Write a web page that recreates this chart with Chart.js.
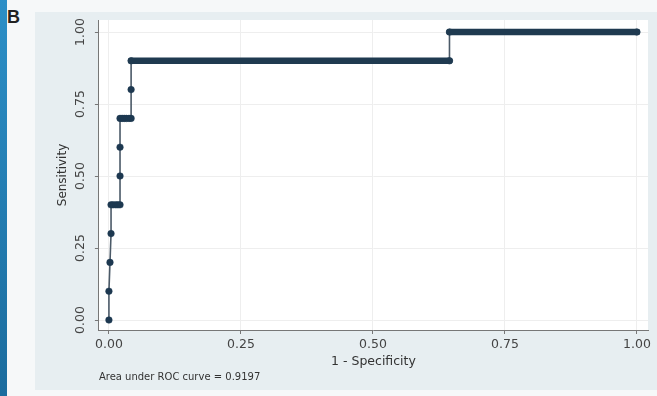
<!DOCTYPE html>
<html><head><meta charset="utf-8">
<script src="https://cdn.jsdelivr.net/npm/chart.js@4.4.1/dist/chart.umd.min.js"></script>
<style>
html,body{margin:0;padding:0;width:657px;height:396px;overflow:hidden;background:#f6f8f9;}
#strip{position:absolute;left:0;top:0;width:7px;height:396px;background:linear-gradient(#2c8fc7,#1b6c9e);}
#panel{position:absolute;left:35px;top:12px;width:622px;height:378px;background:#e7eef1;}
#lbl{position:absolute;left:7px;top:7px;font:bold 18px "Liberation Sans",Arial,sans-serif;color:#222;line-height:normal;}
#wrap{position:absolute;left:0;top:0;width:657px;height:396px;}
</style></head>
<body>
<div id="strip"></div><div id="panel"></div><div id="lbl">B</div>
<div id="wrap"><canvas id="c" width="657" height="396"></canvas></div>
<script>
// ROC points (1 - specificity, sensitivity)
const fpr = [0, 0, 0.002, 0.004, 0.004, 0.008, 0.013, 0.017, 0.021, 0.021, 0.021, 0.021, 0.025, 0.029, 0.033, 0.038, 0.042, 0.042, 0.042, 0.645, 0.645, 1.0];
const tpr = [0, 0.1, 0.2, 0.3, 0.4, 0.4, 0.4, 0.4, 0.4, 0.5, 0.6, 0.7, 0.7, 0.7, 0.7, 0.7, 0.7, 0.8, 0.9, 0.9, 1.0, 1.0];
// runs of densely overlapping markers (drawn as thick segments)
const denseFpr = [0.042, 0.645, null, 0.645, 1.0];
const denseTpr = [0.9, 0.9, null, 1.0, 1.0];
const xTicks = [0, 0.25, 0.5, 0.75, 1];
const yTicks = [0, 0.25, 0.5, 0.75, 1];
const xTitle = '1 - Specificity';
const yTitle = 'Sensitivity';
const note = 'Area under ROC curve = 0.9197';

const plotBg = {
  id: 'plotBg',
  beforeDraw(chart) {
    const {ctx, chartArea: a} = chart;
    ctx.save();
    ctx.fillStyle = '#ffffff';
    ctx.fillRect(a.left, a.top, a.right - a.left, a.bottom - a.top);
    ctx.restore();
  }
};

const FONT = 'DejaVu Sans';
new Chart(document.getElementById('c'), {
  type: 'scatter',
  data: {
    datasets: [
      {
        data: denseFpr.map((x, i) => ({x: x, y: denseTpr[i]})),
        showLine: true, spanGaps: false,
        borderColor: '#1f3a50', borderWidth: 6.5, borderCapStyle: 'round',
        pointRadius: 0
      },
      {
        data: fpr.map((x, i) => ({x: x, y: tpr[i]})),
        showLine: true,
        borderColor: '#4b5a68', borderWidth: 1.6,
        pointRadius: 3.3, pointBackgroundColor: '#1d3850', pointBorderColor: '#1d3850', pointBorderWidth: 0.5
      }
    ]
  },
  options: {
    responsive: false,
    animation: false,
    layout: {padding: {left: 52, right: 9, top: 20, bottom: 13}},
    plugins: {
      legend: {display: false},
      tooltip: {enabled: false},
      subtitle: {
        display: true, text: note, position: 'bottom', align: 'start', fullSize: false,
        font: {family: FONT, size: 10, lineHeight: 1.2}, color: '#333',
        padding: {top: 3, bottom: 0}
      }
    },
    scales: {
      x: {
        type: 'linear', min: -0.019, max: 1.021,
        afterBuildTicks: s => { s.ticks = xTicks.map(v => ({value: v})); },
        ticks: {callback: v => v.toFixed(2), font: {family: FONT, size: 12.5, lineHeight: 1}, color: '#444', padding: 4, maxRotation: 0, autoSkip: false},
        grid: {color: '#eeeeee', tickColor: '#777', tickLength: 4},
        border: {color: '#777', width: 1},
        title: {display: true, text: xTitle, font: {family: FONT, size: 12.5, lineHeight: 1}, color: '#333', padding: {top: 1, bottom: 0}}
      },
      y: {
        type: 'linear', min: -0.0347, max: 1.0417,
        afterBuildTicks: s => { s.ticks = yTicks.map(v => ({value: v})); },
        ticks: {callback: v => v.toFixed(2), font: {family: FONT, size: 12.5, lineHeight: 1}, color: '#444', padding: 0, minRotation: 90, maxRotation: 90, crossAlign: 'center', autoSkip: false},
        grid: {color: '#eeeeee', tickColor: '#777', tickLength: 4},
        border: {color: '#777', width: 1},
        title: {display: true, text: yTitle, font: {family: FONT, size: 12, lineHeight: 1.2}, color: '#333', padding: {top: 4, bottom: 12}}
      }
    }
  },
  plugins: [plotBg]
});
</script>
</body></html>
